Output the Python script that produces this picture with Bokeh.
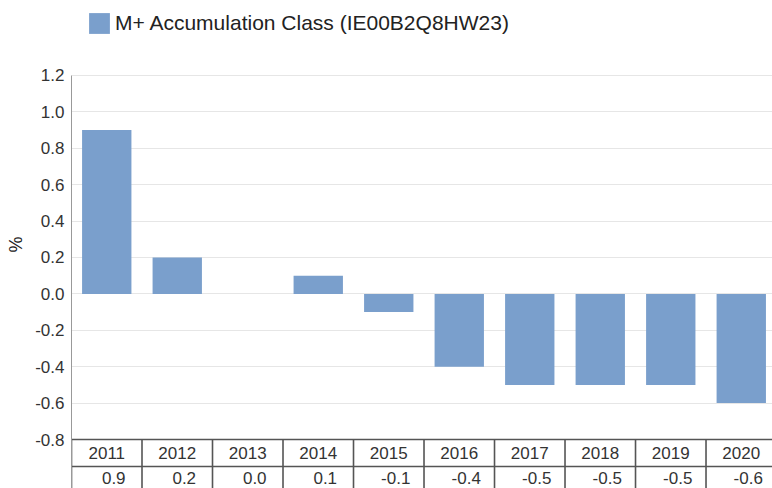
from bokeh.plotting import figure
from bokeh.models import (ColumnDataSource, Range1d, FixedTicker, Legend, LegendItem,
                          PrintfTickFormatter)
from bokeh.core.properties import value
from bokeh.embed import file_html
from bokeh.resources import INLINE

# ---- data ----
years = ["2011", "2012", "2013", "2014", "2015", "2016", "2017", "2018", "2019", "2020"]
returns = [0.9, 0.2, 0.0, 0.1, -0.1, -0.4, -0.5, -0.5, -0.5, -0.6]
y_ticks = [-0.8, -0.6, -0.4, -0.2, 0.0, 0.2, 0.4, 0.6, 0.8, 1.0, 1.2]
series_name = "M+ Accumulation Class (IE00B2Q8HW23)"

FONT = "Liberation Sans"
BAR = "#7a9fcc"

idx = list(range(len(years)))
value_labels = ["%.1f" % v for v in returns]

src = ColumnDataSource(dict(x=idx, top=returns, year=years, vlabel=value_labels))

W, H = 772, 488
p = figure(width=W, height=H, output_backend="svg", toolbar_location=None,
           x_range=Range1d(-0.5, 9.443), y_range=Range1d(-1.0692, 1.612),
           min_border_left=71, min_border_top=0, min_border_bottom=0,
           min_border_right=0)
p.outline_line_color = None
p.background_fill_color = "white"
p.border_fill_color = "white"

# axes
p.xaxis.visible = False
p.xgrid.visible = False
p.yaxis.ticker = FixedTicker(ticks=y_ticks)
p.yaxis.bounds = (-1.2, 1.2)
p.yaxis.formatter = PrintfTickFormatter(format="%.1f")
p.yaxis.major_tick_line_color = None
p.yaxis.major_tick_out = 0
p.yaxis.major_tick_in = 0
p.yaxis.minor_tick_line_color = None
p.yaxis.axis_line_color = "#999999"
p.yaxis.major_label_text_font = FONT
p.yaxis.major_label_text_font_size = "17px"
p.yaxis.major_label_text_color = "#333333"
p.yaxis.major_label_standoff = 7
p.yaxis.axis_label = "%"
p.yaxis.axis_label_text_font = FONT
p.yaxis.axis_label_text_font_size = "18px"
p.yaxis.axis_label_text_font_style = "normal"
p.yaxis.axis_label_text_color = "#222222"
p.yaxis.axis_label_standoff = 6
p.ygrid.ticker = FixedTicker(ticks=y_ticks)
p.ygrid.grid_line_color = "#e6e6e6"

# bars
bars = p.vbar(x="x", top="top", bottom=0, width=0.7, source=src,
              fill_color=BAR, line_color=None)

# data table under the chart
table_top = -0.8
table_mid = -0.9484
table_bottom = -1.0692
row1_y = -0.8742
row2_y = -1.0088
xs_b = [i - 0.5 for i in range(len(years) + 1)]
p.segment(x0=xs_b, x1=xs_b, y0=[table_top] * len(xs_b), y1=[table_bottom] * len(xs_b),
          line_color="#555555", line_width=1.6)
p.segment(x0=[-0.5, -0.5], x1=[len(years) - 0.5] * 2, y0=[table_top, table_mid],
          y1=[table_top, table_mid], line_color="#555555", line_width=1.6)
p.text(x="x", y=row1_y, text="year", source=src, text_align="center",
       text_baseline="middle", text_font=value(FONT), text_font_size="17px",
       text_color="#333333")
p.text(x="x", y=row2_y, text="vlabel", source=src, text_align="center",
       text_baseline="middle", text_font=value(FONT), text_font_size="17px",
       text_color="#333333", x_offset=7)

# legend (frame reaches the top of the figure, so it sits inside it)
legend = Legend(items=[LegendItem(label=series_name, renderers=[bars])],
                location=(15, H - 10 - 26), orientation="horizontal",
                padding=0, margin=0, border_line_color=None,
                background_fill_alpha=0, glyph_width=26, glyph_height=26,
                label_text_font=FONT, label_text_font_size="21px",
                label_text_color="#222222", label_standoff=3)
p.add_layout(legend, "center")

open("out.html", "w").write(file_html(p, INLINE))
